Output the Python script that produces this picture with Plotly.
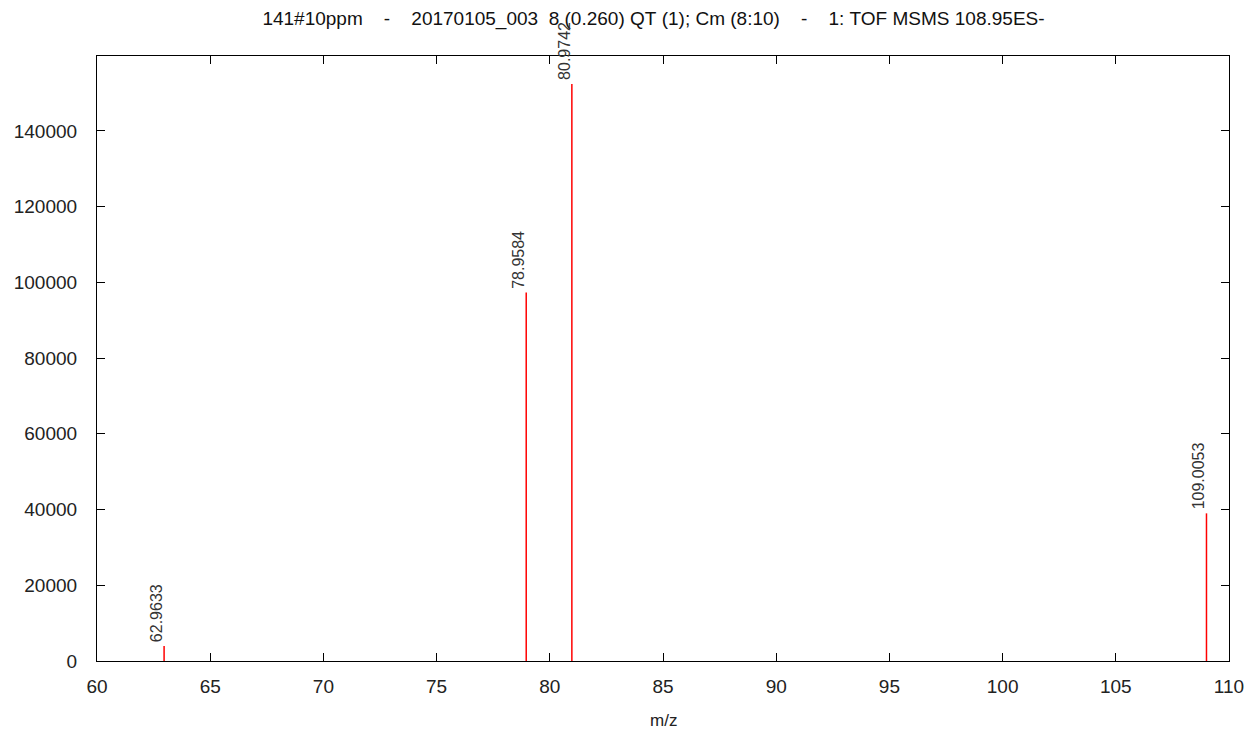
import plotly.graph_objects as go

mz = [62.9633, 78.9584, 80.9742, 109.0053]
intensity = [3950, 97300, 152400, 39000]
labels = ["62.9633", "78.9584", "80.9742", "109.0053"]
x_ticks = [60, 65, 70, 75, 80, 85, 90, 95, 100, 105, 110]
y_ticks = [0, 20000, 40000, 60000, 80000, 100000, 120000, 140000]
x_title = "m/z"

sp = "\u00a0"
title_text = ("141#10ppm" + sp * 4 + "-" + sp * 4 + "20170105_003" + sp * 2 + "8" + sp + "(0.260)" + sp + "QT" + sp + "(1);" + sp
              + "Cm" + sp + "(8:10)" + sp * 4 + "-" + sp * 4 + "1:" + sp + "TOF" + sp + "MSMS" + sp + "108.95ES-")

FONT = "Liberation Sans, Arial, sans-serif"

xs, ys = [], []
for x, h in zip(mz, intensity):
    xs += [x, x, None]
    ys += [0, h, None]

fig = go.Figure()
fig.add_trace(go.Scatter(x=xs, y=ys, mode="lines", line=dict(color="#ff0000", width=1.5),
                         hoverinfo="skip", showlegend=False, cliponaxis=False))

for x, h, t in zip(mz, intensity, labels):
    fig.add_annotation(x=x, y=h, text=t, showarrow=False, textangle=-90,
                       xanchor="center", yanchor="bottom", xshift=-8, yshift=2,
                       font=dict(family=FONT, size=16, color="#333333"))

fig.add_annotation(x=0.5, y=0, xref="paper", yref="paper", text=x_title, showarrow=False,
                   xanchor="center", yanchor="middle", yshift=-59,
                   font=dict(family=FONT, size=17, color="#222222"))

axis_common = dict(showline=True, linecolor="black", linewidth=1.2, mirror="ticks",
                   ticks="inside", ticklen=8, tickwidth=1.2, tickcolor="black",
                   showgrid=False, zeroline=False, automargin=False,
                   tickfont=dict(family=FONT, size=19, color="#222222"))

fig.update_layout(
    width=1238, height=723,
    paper_bgcolor="white", plot_bgcolor="white",
    margin=dict(l=89, r=17, t=48, b=70, autoexpand=False),
    title=dict(text=title_text, xref="container", x=0.5214, xanchor="center",
               yref="container", y=0.986, yanchor="middle",
               font=dict(family=FONT, size=19, color="#111111")),
    xaxis=dict(range=[60, 110], tickmode="array", tickvals=x_ticks,
               ticktext=[str(v) for v in x_ticks],
               ticklabelstandoff=8, **axis_common),
    yaxis=dict(range=[0, 159800], tickmode="array", tickvals=y_ticks,
               ticktext=[str(v) for v in y_ticks],
               ticklabelstandoff=15, **axis_common),
)

fig.write_html("out.html")
